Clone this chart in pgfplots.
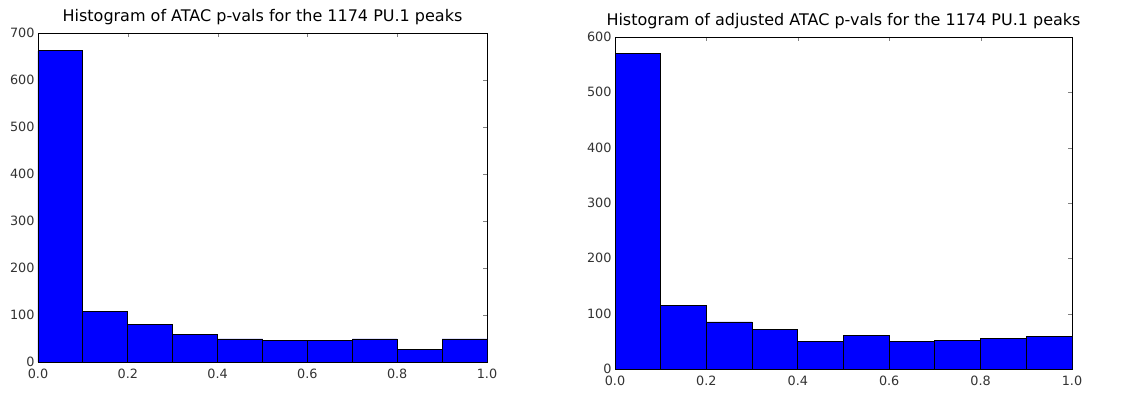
\documentclass[border=0pt]{standalone}
\usepackage{pgfplots}
\pgfplotsset{compat=1.18}
\usepackage{fontspec}
\setmainfont{DejaVu Sans}
\definecolor{mplblue}{RGB}{0,0,255}
\pgfplotsset{
  histo/.style={
    scale only axis,
    anchor=south west,
    xmin=0, xmax=1, ymin=0,
    xtick={0,0.2,0.4,0.6,0.8,1.0},
    xticklabel style={/pgf/number format/fixed,/pgf/number format/fixed zerofill,/pgf/number format/precision=1, yshift=-3pt},
    /pgf/number format/assume math mode=true,
    tick label style={font=\fontsize{12.8}{14}\selectfont, text=black!80},
    tick align=inside,
    major tick length=4pt,
    xtick pos=both, ytick pos=both,
    axis line style={line width=0.9pt},
    title style={font=\fontsize{16}{18}\selectfont, inner sep=2pt, yshift=0pt},
    scaled y ticks=false,
  }
}
\begin{document}
\begin{tikzpicture}
\useasboundingbox (0,0) rectangle (1146pt,393pt);
\begin{axis}[histo, at={(38pt,31pt)}, width=449pt, height=329pt, ymax=700,
  ytick={0,100,...,700},
  title={Histogram of ATAC p-vals for the 1174 PU.1 peaks}]
\addplot[ybar interval, fill=mplblue, draw=black, line width=0.9pt] coordinates {
(0.0,662) (0.1,108) (0.2,80) (0.3,58) (0.4,49) (0.5,46) (0.6,46) (0.7,49) (0.8,27) (0.9,49) (1.0,49)};
\end{axis}
\begin{axis}[histo, at={(615pt,24pt)}, width=457pt, height=332pt, ymax=600,
  ytick={0,100,...,600},
  title={Histogram of adjusted ATAC p-vals for the 1174 PU.1 peaks}]
\addplot[ybar interval, fill=mplblue, draw=black, line width=0.9pt] coordinates {
(0.0,571) (0.1,115) (0.2,85) (0.3,71) (0.4,50) (0.5,61) (0.6,50) (0.7,52) (0.8,55) (0.9,58) (1.0,58)};
\end{axis}
\end{tikzpicture}
\end{document}
